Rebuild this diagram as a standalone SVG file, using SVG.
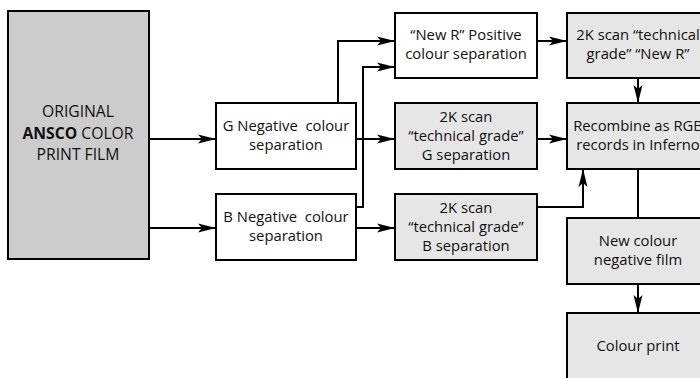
<svg xmlns="http://www.w3.org/2000/svg" width="700" height="378" viewBox="0 0 700 378">
<defs>
<marker id="ah" markerWidth="18" markerHeight="10" refX="18" refY="5" orient="auto" markerUnits="userSpaceOnUse">
<path d="M0,0.5 L18,5 L0,9.5 L4,5 z" fill="#000"/>
</marker>
<style>
.b{stroke:#000;stroke-width:2}
.w{fill:#fff}
.g{fill:#e6e6e6}
.o{fill:#cccccc}
text{font-family:"Open Sans","Noto Sans",sans-serif;font-size:14.8px;fill:#111;text-anchor:middle}
.big{font-size:15.7px}
.c{fill:none;stroke:#000;stroke-width:2}
</style>
</defs>
<g id="original">
<rect class="b o" x="8" y="11" width="141" height="248"/>
<text class="big" x="78" y="117">ORIGINAL</text>
<text class="big" x="78" y="139"><tspan font-weight="bold">ANSCO</tspan> COLOR</text>
<text class="big" x="78" y="160">PRINT FILM</text>
</g>
<g id="gneg">
<rect class="b w" x="216" y="103" width="140" height="66"/>
<text x="286" y="131" xml:space="preserve">G Negative  colour</text>
<text x="286" y="150">separation</text>
</g>
<g id="bneg">
<rect class="b w" x="216" y="194" width="140" height="66"/>
<text x="286" y="222" xml:space="preserve">B Negative  colour</text>
<text x="286" y="241">separation</text>
</g>
<g id="newr">
<rect class="b w" x="395" y="13" width="142" height="65"/>
<text x="466" y="40">“New R” Positive</text>
<text x="466" y="59">colour separation</text>
</g>
<g id="scang">
<rect class="b g" x="395" y="103" width="142" height="66"/>
<text x="466" y="122">2K scan</text>
<text x="466" y="141">“technical grade”</text>
<text x="466" y="160">G separation</text>
</g>
<g id="scanb">
<rect class="b g" x="395" y="194" width="142" height="66"/>
<text x="466" y="213">2K scan</text>
<text x="466" y="232">“technical grade”</text>
<text x="466" y="251">B separation</text>
</g>
<g id="scanr">
<rect class="b g" x="567" y="13" width="142" height="65"/>
<text x="638" y="40">2K scan “technical</text>
<text x="638" y="59">grade” “New R”</text>
</g>
<g id="recombine">
<rect class="b g" x="567" y="103" width="142" height="66"/>
<text x="638" y="131">Recombine as RGB</text>
<text x="638" y="150">records in Inferno</text>
</g>
<g id="newneg">
<rect class="b g" x="567" y="218" width="142" height="66"/>
<text x="638" y="246">New colour</text>
<text x="638" y="265">negative film</text>
</g>
<g id="print">
<rect class="b g" x="567" y="313" width="142" height="66"/>
<text x="638" y="351">Colour print</text>
</g>
<g id="connectors">
<path class="c" d="M149,139 H216" marker-end="url(#ah)"/>
<path class="c" d="M149,228 H216" marker-end="url(#ah)"/>
<path class="c" d="M338,103 V41 H395" marker-end="url(#ah)"/>
<path class="c" d="M356,139 H395" marker-end="url(#ah)"/>
<path class="c" d="M356,207 H363 V67 H395" marker-end="url(#ah)"/>
<path class="c" d="M356,228 H395" marker-end="url(#ah)"/>
<path class="c" d="M537,41 H567" marker-end="url(#ah)"/>
<path class="c" d="M537,139 H567" marker-end="url(#ah)"/>
<path class="c" d="M537,207 H583 V169" marker-end="url(#ah)"/>
<path class="c" d="M638,78 V103" marker-end="url(#ah)"/>
<path class="c" d="M638,169 V218"/>
<path class="c" d="M638,284 V313" marker-end="url(#ah)"/>
</g>
</svg>
